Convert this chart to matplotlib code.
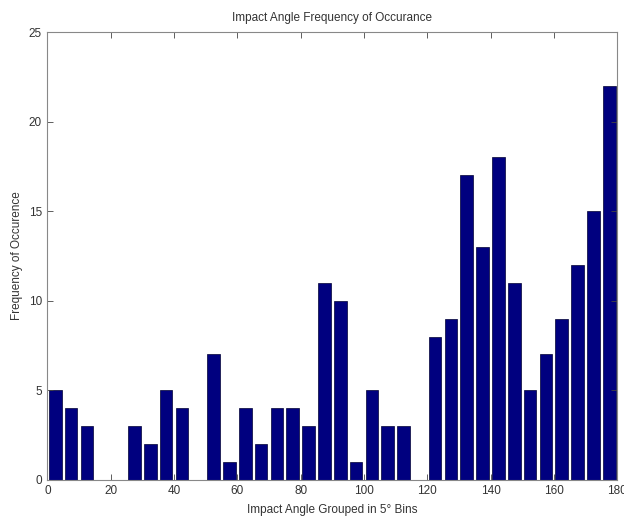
import matplotlib
matplotlib.use('Agg')
import matplotlib.pyplot as plt

plt.rcParams['font.family'] = ['Liberation Sans', 'DejaVu Sans']

bin_centers = [2.5, 7.5, 12.5, 17.5, 22.5, 27.5, 32.5, 37.5, 42.5, 47.5, 52.5, 57.5,
               62.5, 67.5, 72.5, 77.5, 82.5, 87.5, 92.5, 97.5, 102.5, 107.5, 112.5, 117.5,
               122.5, 127.5, 132.5, 137.5, 142.5, 147.5, 152.5, 157.5, 162.5, 167.5, 172.5, 177.5]
counts = [5, 4, 3, 0, 0, 3, 2, 5, 4, 0, 7, 1,
          4, 2, 4, 4, 3, 11, 10, 1, 5, 3, 3, 0,
          8, 9, 17, 13, 18, 11, 5, 7, 9, 12, 15, 22]

fig = plt.figure(figsize=(6.24, 5.17), dpi=100)
ax = fig.add_axes([0.076, 0.072, 0.913, 0.866])
ax.bar(bin_centers, counts, width=4, color='#00007f', edgecolor='#000033', linewidth=0.5)
ax.set_xlim(0, 180)
ax.set_ylim(0, 25)
ax.set_xticks(range(0, 181, 20))
ax.set_yticks(range(0, 26, 5))
ax.tick_params(direction='in', top=True, right=True, labelsize=8.5, length=4, width=0.6,
               colors='#444444', labelcolor='#333333', pad=4)
for s in ax.spines.values():
    s.set_color('#888888')
    s.set_linewidth(0.8)
ax.set_xlabel('Impact Angle Grouped in 5° Bins', fontsize=8.5, labelpad=5, color='#333333')
ax.set_ylabel('Frequency of Occurence', fontsize=8.5, labelpad=4, color='#333333')
ax.set_title('Impact Angle Frequency of Occurance', fontsize=8.5, pad=8, color='#333333')
plt.savefig('out.png')
